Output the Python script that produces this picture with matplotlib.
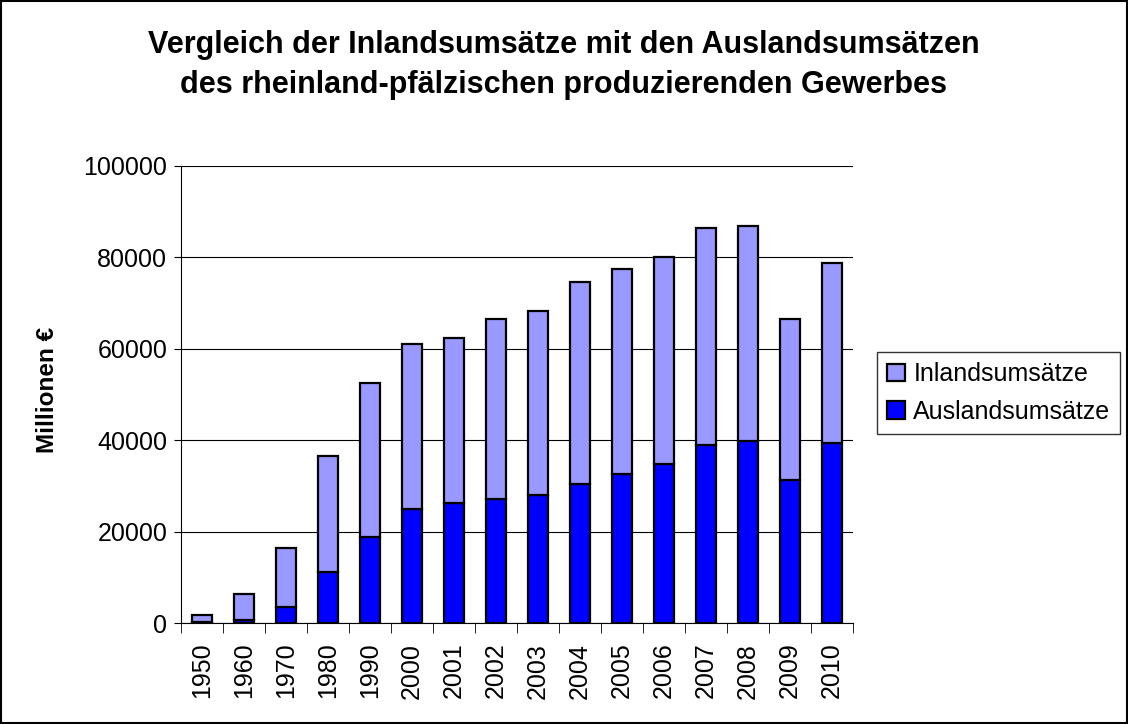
import matplotlib.pyplot as plt
import numpy as np

plt.rcParams['font.family'] = ['Liberation Sans', 'DejaVu Sans']

years = ['1950', '1960', '1970', '1980', '1990', '2000', '2001', '2002',
         '2003', '2004', '2005', '2006', '2007', '2008', '2009', '2010']
# Gesamtumsatz und Auslandsumsatz in Mio. EUR
gesamt = [1820, 6340, 16390, 36640, 52450, 61040, 62280, 66500,
          68250, 74670, 77430, 80130, 86470, 86830, 66500, 78670]
ausland = [300, 730, 3640, 11290, 18940, 24910, 26220, 27100,
           28040, 30380, 32630, 34820, 38900, 39840, 31320, 39340]
inland = [g - a for g, a in zip(gesamt, ausland)]

fig = plt.figure(figsize=(11.28, 7.24), dpi=100)
ax = fig.add_axes([0.1605, 0.1391, 0.5957, 0.632])

x = np.arange(len(years))
w = 0.46
ax.bar(x, ausland, w, color='#0000FF', edgecolor='black', linewidth=1.6,
       label='Auslandsumsätze', zorder=3)
ax.bar(x, inland, w, bottom=ausland, color='#9999FF', edgecolor='black',
       linewidth=1.6, label='Inlandsumsätze', zorder=3)

ax.set_xlim(-0.5, len(years) - 0.5)
ax.set_ylim(0, 100000)
ax.set_yticks(np.arange(0, 100001, 20000))
ax.yaxis.grid(True, color='black', linewidth=0.8, zorder=0)
ax.set_axisbelow(True)

ax.set_xticks(x)
ax.set_xticklabels(years, rotation=90, fontsize=18)
ax.set_xticks(np.arange(-0.5, len(years), 1), minor=True)
ax.tick_params(axis='x', which='major', length=0, pad=14)
ax.tick_params(axis='x', which='minor', length=7, color='black')
ax.tick_params(axis='y', labelsize=18, length=5, pad=5)

ax.spines['top'].set_visible(False)
ax.spines['right'].set_visible(False)

fig.text(48 / 1128, 1 - 390 / 724, 'Millionen €', rotation=90,
         ha='center', va='center', fontsize=17.5, fontweight='bold')

fig.text(0.5, 1 - 65 / 724, 'Vergleich der Inlandsumsätze mit den Auslandsumsätzen\n'
         'des rheinland-pfälzischen produzierenden Gewerbes',
         ha='center', va='center', fontsize=22, fontweight='bold',
         linespacing=1.4)

h, l = ax.get_legend_handles_labels()
fig.legend(h[::-1], l[::-1], loc='center left',
           bbox_to_anchor=(877 / 1128, 1 - 393 / 724), fontsize=18,
           frameon=True, fancybox=False, edgecolor='black',
           handlelength=0.7, handleheight=0.7, handletextpad=0.35,
           borderpad=0.4, labelspacing=0.55, borderaxespad=0)

fig.patches.append(plt.Rectangle((0.001, 0.001), 0.998, 0.998,
                                 transform=fig.transFigure, fill=False,
                                 edgecolor='black', linewidth=1.5))

fig.savefig('out.png', dpi=100)
